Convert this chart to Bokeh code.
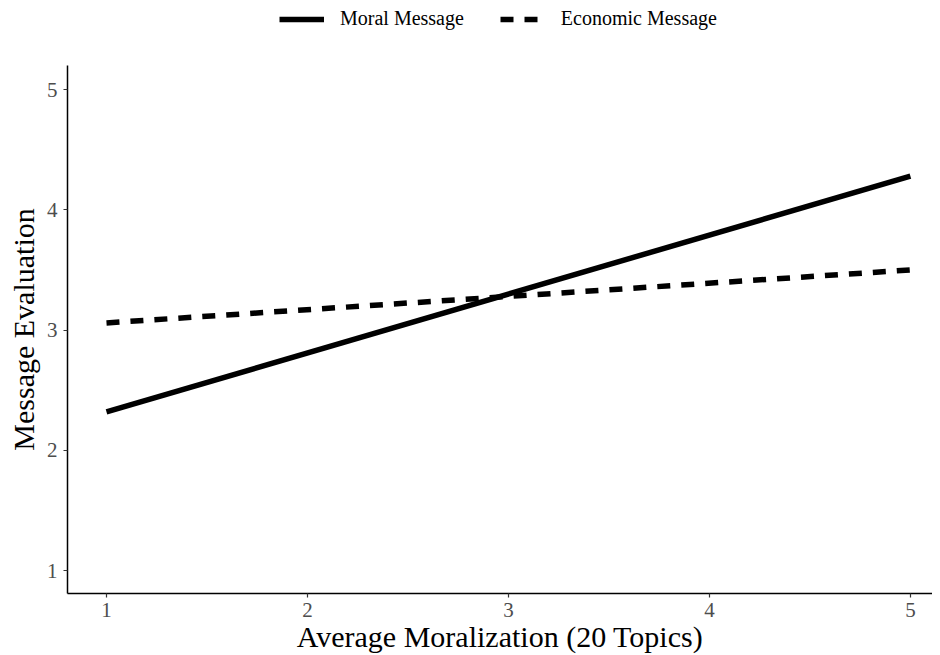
from bokeh.plotting import figure
from bokeh.layouts import column
from bokeh.models import Range1d, Legend, LegendItem, FixedTicker
from bokeh.embed import file_html
from bokeh.resources import INLINE

# Data
x_vals = [1, 5]
moral_y = [2.32, 4.28]
econ_y = [3.06, 3.50]
series_labels = ["Moral Message", "Economic Message"]
x_ticks = [1, 2, 3, 4, 5]
y_ticks = [1, 2, 3, 4, 5]

FONT = "Liberation Serif"
DASH = "13 11"

p = figure(width=932, height=598, output_backend="svg", toolbar_location=None,
           x_range=Range1d(0.806, 5.11), y_range=Range1d(0.81, 5.2),
           min_border_left=67, min_border_right=0, min_border_top=8, min_border_bottom=55)

p.xgrid.visible = False
p.ygrid.visible = False
p.outline_line_color = None

r1 = p.line(x_vals, moral_y, line_color="black", line_width=5.5)
r2 = p.line(x_vals, econ_y, line_color="black", line_width=5.5, line_dash=DASH)

for ax in (p.xaxis[0], p.yaxis[0]):
    ax.axis_line_color = "black"
    ax.axis_line_width = 1.5
    ax.major_tick_line_color = "#333333"
    ax.major_tick_line_width = 1.2
    ax.major_tick_out = 4
    ax.major_tick_in = 0
    ax.minor_tick_line_color = None
    ax.major_label_text_font = FONT
    ax.major_label_text_font_size = "21px"
    ax.major_label_text_color = "#4d4d4d"
    ax.axis_label_text_font = FONT
    ax.axis_label_text_font_size = "30px"
    ax.axis_label_text_font_style = "normal"
    ax.axis_label_text_color = "black"

p.xaxis[0].ticker = FixedTicker(ticks=x_ticks)
p.yaxis[0].ticker = FixedTicker(ticks=y_ticks)
p.xaxis[0].axis_label = "Average Moralization (20 Topics)"
p.yaxis[0].axis_label = "Message Evaluation"
p.xaxis[0].axis_label_standoff = 0
p.yaxis[0].axis_label_standoff = 4
p.xaxis[0].major_label_standoff = 5
p.yaxis[0].major_label_standoff = 6

# Legend strip on top (its lines lie outside its view; only the legend shows)
pl = figure(width=932, height=57, output_backend="svg", toolbar_location=None,
            x_range=Range1d(100, 101), y_range=Range1d(100, 101),
            x_axis_location=None, y_axis_location=None,
            min_border_left=0, min_border_right=0, min_border_top=0, min_border_bottom=0)
pl.grid.visible = False
pl.outline_line_color = None
l1 = pl.line(x_vals, moral_y, line_color="black", line_width=5.5)
l2 = pl.line(x_vals, econ_y, line_color="black", line_width=5.5, line_dash=DASH)

legend = Legend(items=[LegendItem(label=series_labels[0], renderers=[l1]),
                       LegendItem(label=series_labels[1], renderers=[l2])],
                orientation="horizontal", location=(212, 27),
                label_text_font=FONT, label_text_font_size="20px", label_text_color="black",
                glyph_width=45, glyph_height=20, label_standoff=16, spacing=36,
                border_line_color=None, background_fill_alpha=0, padding=4, margin=0)
pl.add_layout(legend, "center")

layout = column(pl, p, spacing=0)
open("out.html", "w").write(file_html(layout, INLINE))
